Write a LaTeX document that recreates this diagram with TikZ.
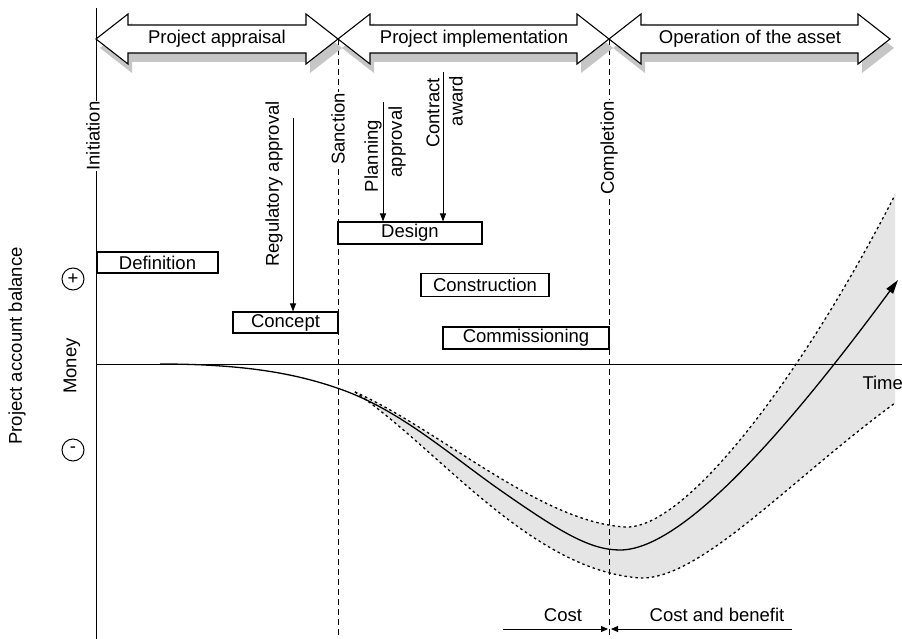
\documentclass[tikz,border=0pt]{standalone}
\usepackage{fontspec}
\setmainfont{Liberation Sans}
\usetikzlibrary{arrows.meta}
\newcommand\blockarrowpath[2]{(#1,39) -- (#1+32,14) -- (#1+32,25) -- (#2-32,25) -- (#2-32,14) -- (#2,39) -- (#2-32,64) -- (#2-32,53) -- (#1+32,53) -- (#1+32,64) -- cycle}
\begin{document}
\begin{tikzpicture}[x=1pt,y=-1pt,
  font=\fontsize{18.5}{21}\selectfont,
  line width=1pt,
  box/.style={draw, line width=1.1pt, inner sep=0pt, minimum height=22pt, anchor=center},
  vlab/.style={rotate=90, inner sep=1pt},
  dashline/.style={line width=1pt, dash pattern=on 6pt off 4pt},
  dotline/.style={line width=1.3pt, dash pattern=on 2.5pt off 3pt},
  arr/.style={-{Triangle[length=8pt,width=6pt]}, line width=1pt},
  smallarr/.style={-{Triangle[length=7pt,width=6pt]}, line width=1pt},
  shadowfill/.style={fill=gray!45},
  band/.style={fill=gray!20}]
\useasboundingbox (0,0) rectangle (902,639);
\fill[white] (0,0) rectangle (902,639);

% axes
\coordinate (axtop) at (96,8);
\coordinate (axbot) at (96,639);
\coordinate (hleft) at (96,364);
\coordinate (hright) at (902,364);

% shaded band
\fill[band] (355,392) .. controls (440,430) and (540,522) .. (625,527)
  .. controls (685,530) and (800,380) .. (895,195)
  -- (895,403) .. controls (790,480) and (700,580) .. (640,578)
  .. controls (530,570) and (440,450) .. (355,392) -- cycle;

\draw (axtop) -- (axbot);
\draw (hleft) -- (hright);

% dashed milestone lines
\coordinate (santop) at (338,39);
\coordinate (sanbot) at (338,639);
\coordinate (comtop) at (609,39);
\coordinate (combot) at (609,639);
\draw[dashline] (santop) -- (sanbot);
\draw[dashline] (comtop) -- (combot);

% dotted bounds
\draw[dotline] (355,392) .. controls (440,430) and (540,522) .. (625,527)
  .. controls (685,530) and (800,380) .. (895,195);
\draw[dotline] (355,392) .. controls (440,450) and (530,570) .. (640,578)
  .. controls (700,580) and (790,480) .. (895,403);

% main curve
\draw[line width=1.3pt, -{Triangle[length=14pt,width=8pt]}]
  (160,364) .. controls (250,364) and (300,375) .. (340,389)
  .. controls (400,410) and (450,455) .. (500,490)
  .. controls (560,532) and (590,550) .. (620,550)
  .. controls (680,550) and (780,440) .. (898,280);

% block arrows: shadows, fills, outlines
\fill[shadowfill, shift={(4,9)}] \blockarrowpath{96}{338};
\fill[shadowfill, shift={(4,9)}] \blockarrowpath{338}{609};
\fill[shadowfill, shift={(4,9)}] \blockarrowpath{609}{890};
\fill[white] \blockarrowpath{96}{338};
\fill[white] \blockarrowpath{338}{609};
\fill[white] \blockarrowpath{609}{890};
\draw[line width=1.1pt, line join=miter] \blockarrowpath{96}{338};
\draw[line width=1.1pt, line join=miter] \blockarrowpath{338}{609};
\draw[line width=1.1pt, line join=miter] \blockarrowpath{609}{890};
\node (pa) at (217,39) {Project appraisal};
\node (pi) at (474,39) {Project implementation};
\node (oa) at (750,39) {Operation of the asset};

% milestone labels
\node[vlab, fill=white] (init) at (93,136) {Initiation};
\node[vlab, fill=white] (sanc) at (338,129) {Sanction};
\node[vlab, fill=white] (comp) at (609,148) {Completion};
\node[vlab] (reg) at (274,184) {Regulatory approval};
\node[vlab] (plan1) at (373,156) {Planning};
\node[vlab] (plan2) at (397,142) {approval};
\node[vlab] (con1) at (433,113) {Contract};
\node[vlab] (con2) at (456,101) {award};

% stage boxes
\node[box, minimum width=121pt, minimum height=21pt] (def) at (157.5,262.5) {Definition};
\node[box, minimum width=105pt, minimum height=21pt] (concept) at (285.5,322.5) {Concept};
\node[box, minimum width=144pt] (design) at (410,233) {Design};
\node[box, minimum width=128pt, minimum height=23pt] (constr) at (485,285) {Construction};
\node[box, minimum width=166pt] (comm) at (526,338) {Commissioning};

% approval arrows
\coordinate (regA) at (293,118);
\coordinate (planA) at (383,102);
\coordinate (conA) at (443,72);
\draw[arr] (regA) -- (regA |- concept.north);
\draw[arr] (planA) -- (planA |- design.north);
\draw[arr] (conA) -- (conA |- design.north);

% y axis labels
\node[circle, draw, line width=1pt, minimum size=22pt, inner sep=0pt] (plus) at (73,279) {+};
\node[circle, draw, line width=1pt, minimum size=22pt, inner sep=0pt] (minus) at (73,450) {-};
\node[vlab] (money) at (72,366) {Money};
\node[vlab] (pab) at (17,346) {Project account balance};
\node[anchor=west, inner sep=0pt] (time) at (862,383) {Time};

% bottom cost arrows
\node (cost) at (563,615) {Cost};
\node (cab) at (717,615) {Cost and benefit};
\coordinate (c1) at (503,629);
\coordinate (c2) at (608,629);
\coordinate (c3) at (611,629);
\coordinate (c4) at (792,629);
\draw[smallarr] (c1) -- (c2);
\draw[smallarr] (c4) -- (c3);
\end{tikzpicture}
\end{document}
